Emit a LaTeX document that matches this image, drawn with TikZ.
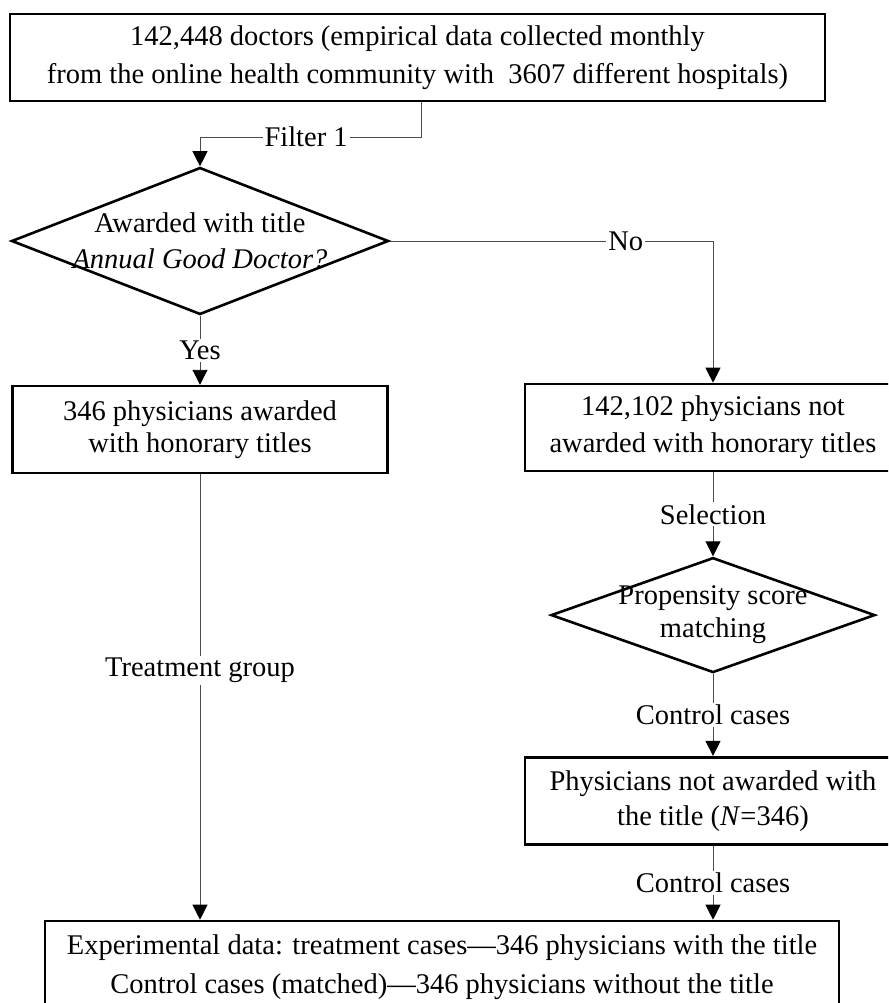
\documentclass[tikz,border=0pt]{standalone}
\usepackage{fontspec}
\setmainfont{Liberation Serif}
\usetikzlibrary{positioning,shapes.geometric,arrows.meta}
\tikzset{
 box/.style={draw, line width=2.6pt, align=center, inner sep=0pt},
 decision/.style={draw, diamond, line width=2.6pt, inner sep=0pt},
 flow/.style={line width=0.9pt, draw=black!70, -{Triangle[length=15pt,width=15pt,color=black]}},
 tag/.style={fill=white, inner sep=2pt}
}
\begin{document}
\begin{tikzpicture}[x=1pt, y=-1pt, font=\fontsize{28.5}{36}\selectfont]
\clip (0,0) rectangle (888,1003);
\node[box, minimum width=815pt, minimum height=87pt, font=\fontsize{28.5}{38}\selectfont] (doctors) at (417.5,57.5) {142,448 doctors (empirical data collected monthly\\from the online health community with \ 3607 different hospitals)};
\node[decision, minimum width=377pt, minimum height=147pt, label={[align=center, font=\fontsize{28.5}{36}\selectfont]center:Awarded with title\\\textit{Annual Good Doctor?}}] (award) at (200,241) {};
\node[box, minimum width=375pt, minimum height=87pt, font=\fontsize{28.5}{32}\selectfont, below=69pt of award] (awarded) {346 physicians awarded\\with honorary titles};
\node[box, minimum width=376pt, minimum height=87pt, font=\fontsize{28.5}{37}\selectfont] (notawarded) at (713,427.5) {142,102 physicians not\\awarded with honorary titles};
\node[decision, minimum width=324pt, minimum height=115pt, below=84pt of notawarded, label={[align=center, font=\fontsize{28.5}{33}\selectfont]center:Propensity score\\matching}] (psm) {};
\node[box, minimum width=376pt, minimum height=87pt, font=\fontsize{28.5}{35}\selectfont, below=82pt of psm] (control) {Physicians not awarded with\\the title (\textit{N}=346)};
\node[box, minimum width=794pt, minimum height=93pt, font=\fontsize{28.5}{39}\selectfont] (result) at (442,967.5) {Experimental data: treatment cases—346 physicians with the title\\Control cases (matched)—346 physicians without the title};
\coordinate (bend) at (421,137);
% connectors
\draw[flow] (doctors.south -| bend) -- (bend) -- node[tag, pos=0.52] {Filter 1} (bend -| award) -- (award.north);
\draw[flow] (award.east) -- node[tag, pos=0.73] {No} (award.east -| notawarded) -- (notawarded.north);
\draw[flow] (award.south) -- node[tag] {Yes} (awarded.north);
\draw[flow] (notawarded.south) -- node[tag] {Selection} (psm.north);
\draw[flow] (psm.south) -- node[tag] {Control cases} (control.north);
\draw[flow] (control.south) -- node[tag] {Control cases} (result.north -| control);
\draw[flow] (awarded.south) -- node[tag, pos=0.44] {Treatment group} (result.north -| awarded);
\end{tikzpicture}
\end{document}
